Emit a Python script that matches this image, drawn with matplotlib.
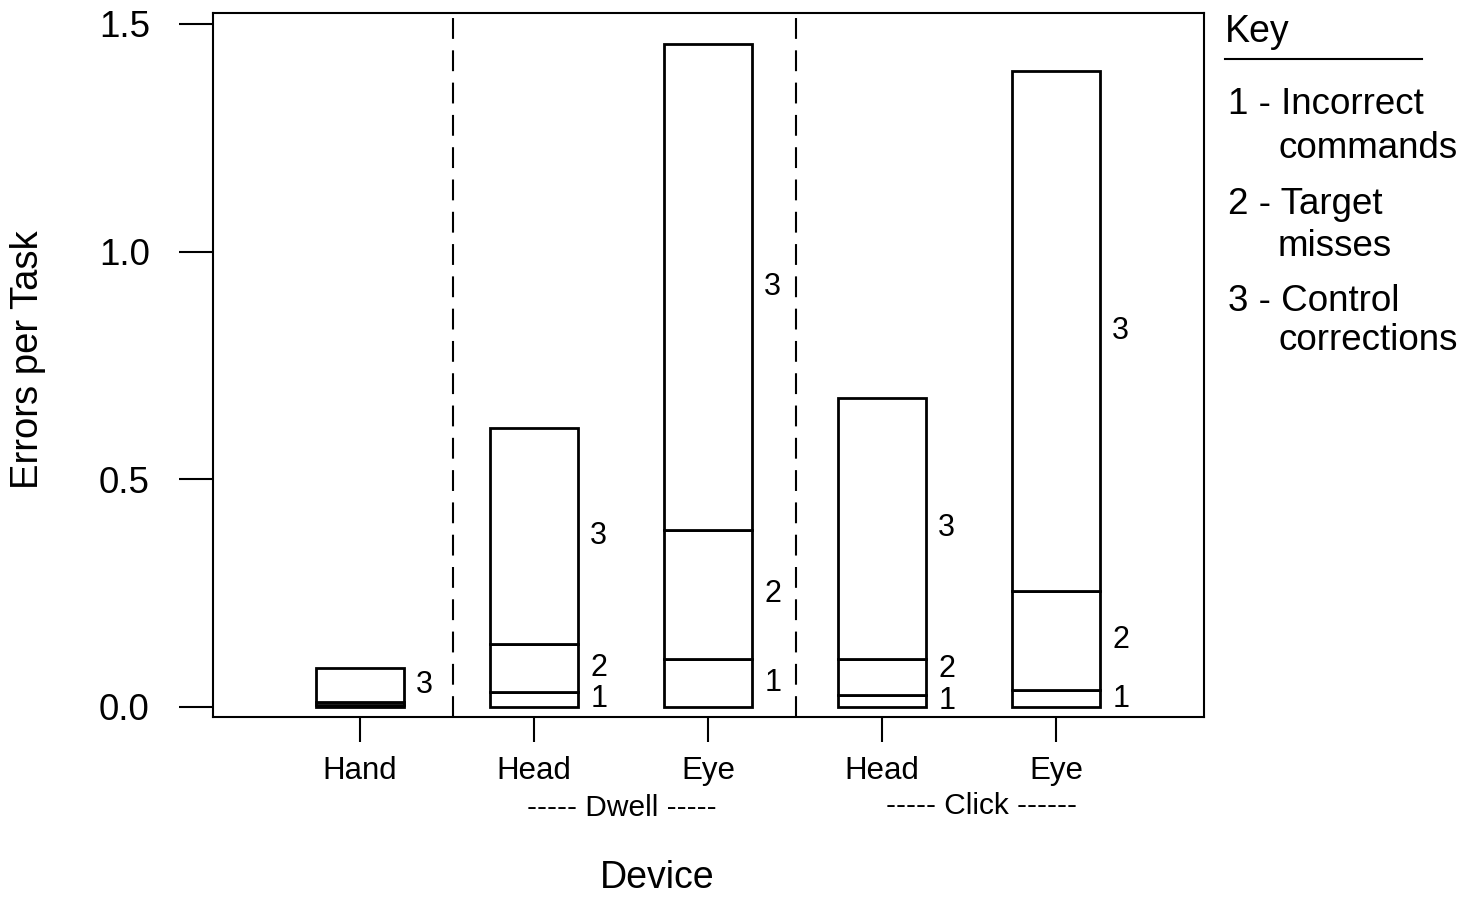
import matplotlib.pyplot as plt
from matplotlib.lines import Line2D

plt.rcParams['font.family'] = ['Liberation Sans', 'DejaVu Sans']

devices = ["Hand", "Head", "Eye", "Head", "Eye"]
groups = ["----- Dwell -----", "----- Click ------"]
# error components per bar (stacked bottom to top)
incorrect = [0.005, 0.033, 0.105, 0.026, 0.037]
misses = [0.006, 0.105, 0.284, 0.079, 0.218]
corrections = [0.074, 0.475, 1.067, 0.574, 1.142]
seg_names = ["1", "2", "3"]
key_lines = [("1 - Incorrect", "commands"), ("2 - Target", "misses"),
             ("3 - Control", "corrections")]

fig = plt.figure(figsize=(14.73, 8.97), dpi=100)
ax = fig.add_axes([0.1446, 0.2007, 0.6728, 0.7848])

x = list(range(len(devices)))
w = 0.506
segs = [incorrect, misses, corrections]
bottom = [0.0] * len(devices)
for s in segs:
    ax.bar(x, s, w, bottom=bottom, color="white", edgecolor="black", linewidth=2)
    bottom = [b + v for b, v in zip(bottom, s)]

# segment labels on the right of each bar
for i in x:
    base = 0.0
    prev = None
    for name, s in zip(seg_names, segs):
        v = s[i]
        mid = base + v / 2
        base += v
        if v < 0.015:
            continue
        if prev is not None and mid - prev < 0.07:
            mid = prev + 0.07
        prev = mid
        ax.text(i + w / 2 + 0.07, mid, name, fontsize=22, va="center", ha="left")

for xd in [0.535, 2.505]:
    ax.axvline(xd, color="black", linewidth=1.5, dashes=(10, 5.5))

ax.set_xlim(-0.845, 4.85)
ax.set_ylim(-0.022, 1.524)
ax.set_yticks([0, 0.5, 1.0, 1.5])
ax.set_yticklabels(["0.0", "0.5", "1.0", "1.5"])
ax.set_xticks(x)
ax.set_xticklabels(devices)
ax.tick_params(axis="y", length=24.5, width=1.5, labelsize=26.5, pad=21)
ax.tick_params(axis="x", length=18, width=1.5, labelsize=22.5, pad=10)
for sp in ax.spines.values():
    sp.set_linewidth(1.5)

fig.text(622 / 1473, 1 - 808 / 897, groups[0], fontsize=21.5, ha="center", va="center")
fig.text(981 / 1473, 1 - 806 / 897, groups[1], fontsize=21.5, ha="center", va="center")
fig.text(657 / 1473, 1 - 888 / 897, "Device", fontsize=27, ha="center", va="baseline")
fig.text(28 / 1473, 1 - 360 / 897, "Errors per Task", fontsize=27.5, rotation=90,
         ha="center", va="center")

# key
fig.text(1225 / 1473, 1 - 32 / 897, "Key", fontsize=27, ha="left", va="center")
fig.add_artist(Line2D([1225 / 1473, 1422 / 1473], [1 - 59 / 897] * 2,
                      color="black", linewidth=1.5))
ys = [(105, 148), (204, 246), (301, 340)]
for (a, b), (ya, yb) in zip(key_lines, ys):
    fig.text(1228 / 1473, 1 - ya / 897, a, fontsize=26.5, ha="left", va="center")
    fig.text(1278 / 1473, 1 - yb / 897, b, fontsize=26.5, ha="left", va="center")

fig.savefig("out.png", dpi=100)
